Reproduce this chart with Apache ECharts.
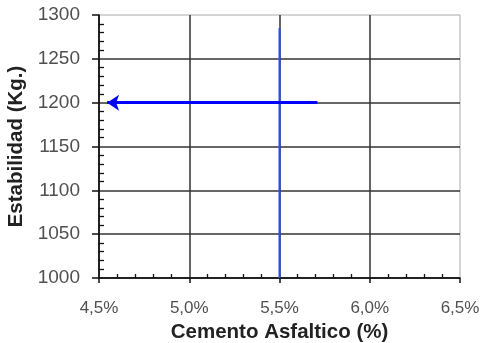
<!DOCTYPE html>
<html><head><meta charset="utf-8">
<script src="https://cdn.jsdelivr.net/npm/echarts@6/dist/echarts.min.js"></script>
<style>html,body{margin:0;padding:0;background:#fff}#c{width:481px;height:343px}</style>
</head><body><div id="c"></div>
<script>
const xTicks = [4.5, 5.0, 5.5, 6.0, 6.5];
const yTicks = [1000, 1050, 1100, 1150, 1200, 1250, 1300];
const verticalLine = [[5.5, 1000], [5.5, 1285]];
const arrowLine = [[5.71, 1200], [4.545, 1200]];
const xName = 'Cemento Asfaltico (%)';
const yName = 'Estabilidad (Kg.)';

const font = 'Liberation Sans, Arial, sans-serif';
const chart = echarts.init(document.getElementById('c'), null, {renderer: 'canvas'});
const xMin = xTicks[0], xMax = xTicks[xTicks.length - 1], xInt = xTicks[1] - xTicks[0];
const yMin = yTicks[0], yMax = yTicks[yTicks.length - 1], yInt = yTicks[1] - yTicks[0];
chart.setOption({
  animation: false,
  grid: {left: 99, right: 21, top: 15, bottom: 65, show: true, borderColor: '#aaa', borderWidth: 1,
    containLabel: false, outerBoundsMode: 'none'},
  xAxis: [{
    type: 'value', min: xMin, max: xMax, interval: xInt, position: 'bottom',
    name: xName, nameLocation: 'middle', nameGap: 34,
    nameTextStyle: {fontFamily: font, fontWeight: 'bold', fontSize: 20.5, color: '#222'},
    axisLine: {lineStyle: {color: '#111', width: 1.5}},
    axisTick: {show: true, inside: false, length: 5, lineStyle: {color: '#111', width: 1.5}},
    axisLabel: {margin: 22, fontFamily: font, fontSize: 17, color: '#505050',
      formatter: v => v.toFixed(1).replace('.', ',') + '%'},
    splitLine: {show: true, showMaxLine: false, lineStyle: {color: '#333', width: 1.5}}
  }, {
    type: 'value', min: xMin, max: xMax, interval: xInt, position: 'bottom',
    axisLine: {show: false}, axisLabel: {show: false}, splitLine: {show: false},
    axisTick: {show: false, inside: true},
    minorTick: {show: true, splitNumber: 5, length: 4, lineStyle: {color: '#111', width: 1.3}}
  }],
  yAxis: [{
    type: 'value', min: yMin, max: yMax, interval: yInt, position: 'left',
    name: yName, nameLocation: 'middle', nameGap: 61,
    nameTextStyle: {fontFamily: font, fontWeight: 'bold', fontSize: 20.5, color: '#222'},
    axisLine: {show: true, lineStyle: {color: '#111', width: 1.5}},
    axisTick: {show: true, inside: false, length: 7, lineStyle: {color: '#111', width: 1.5}},
    axisLabel: {margin: 19, fontFamily: font, fontSize: 19, color: '#505050',
      formatter: v => String(v)},
    splitLine: {show: true, showMaxLine: false, lineStyle: {color: '#333', width: 1.5}}
  }, {
    type: 'value', min: yMin, max: yMax, interval: yInt, position: 'left',
    axisLine: {show: false}, axisLabel: {show: false}, splitLine: {show: false},
    axisTick: {show: false, inside: true},
    minorTick: {show: true, splitNumber: 5, length: 5, lineStyle: {color: '#111', width: 1.3}}
  }],
  series: [{
    type: 'line', xAxisIndex: 0, yAxisIndex: 0, data: verticalLine,
    symbol: 'none', lineStyle: {color: '#1f4fff', width: 2}, z: 5
  }, {
    type: 'lines', coordinateSystem: 'cartesian2d', xAxisIndex: 0, yAxisIndex: 0,
    data: [{coords: arrowLine}],
    symbol: ['none', 'arrow'], symbolSize: 12,
    lineStyle: {color: '#0000ff', width: 3, opacity: 1}, z: 6
  }]
});
</script></body></html>
